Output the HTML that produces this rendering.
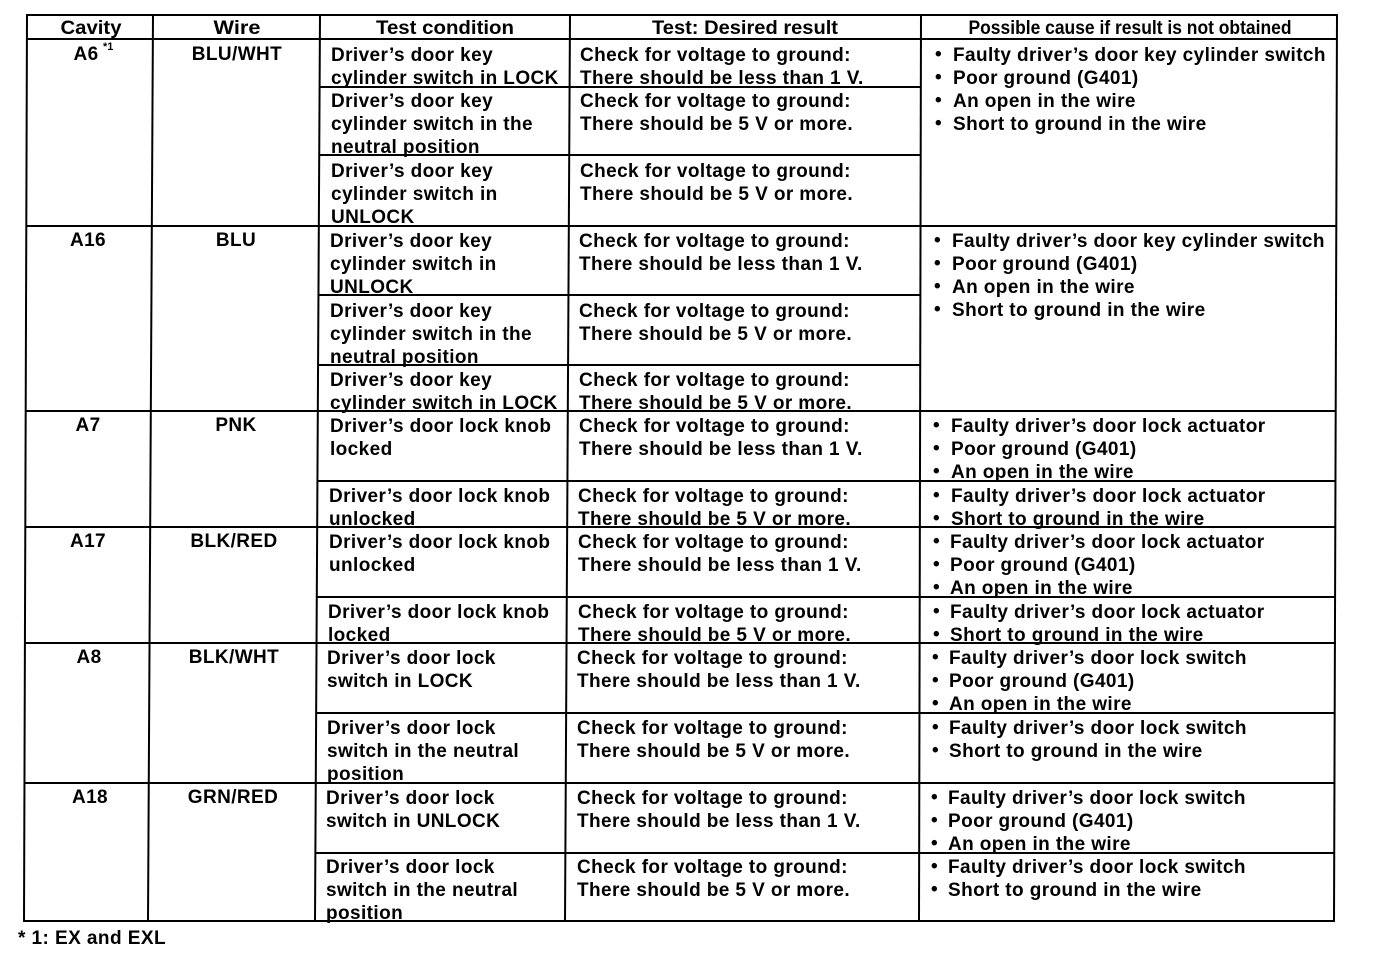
<!DOCTYPE html>
<html><head><meta charset="utf-8"><style>
html,body{margin:0;padding:0;background:#fff;}
svg{display:block;}
text{font-family:"Liberation Sans",Arial,sans-serif;font-weight:bold;font-size:19px;letter-spacing:0.4px;fill:#000;}
.h{font-size:19px;letter-spacing:0;}
.c{text-anchor:middle;}
</style></head><body>
<svg width="1376" height="956" viewBox="0 0 1376 956" xmlns="http://www.w3.org/2000/svg">
<g stroke="#000" stroke-width="2" fill="none">
<!-- verticals -->
<line x1="27" y1="14" x2="24" y2="922"/>
<line x1="153" y1="14" x2="148" y2="922"/>
<line x1="320" y1="14" x2="315" y2="922"/>
<line x1="570" y1="14" x2="565" y2="922"/>
<line x1="921" y1="14" x2="919" y2="922"/>
<line x1="1337" y1="14" x2="1334" y2="922"/>
<!-- full horizontals -->
<line x1="26" y1="15" x2="1337" y2="15"/>
<line x1="26" y1="39" x2="1337" y2="39"/>
<line x1="26" y1="226" x2="1337" y2="226"/>
<line x1="25" y1="411" x2="1336" y2="411"/>
<line x1="25" y1="527" x2="1336" y2="527"/>
<line x1="25" y1="643" x2="1336" y2="643"/>
<line x1="24" y1="783" x2="1335" y2="783"/>
<line x1="24" y1="921" x2="1335" y2="921"/>
<!-- partial horizontals (test condition/result only) -->
<line x1="319" y1="87" x2="921" y2="87"/>
<line x1="319" y1="155" x2="921" y2="155"/>
<line x1="318" y1="295" x2="920" y2="295"/>
<line x1="318" y1="365" x2="920" y2="365"/>
<!-- partial horizontals (incl. cause col) -->
<line x1="318" y1="481" x2="1336" y2="481"/>
<line x1="317" y1="597" x2="1336" y2="597"/>
<line x1="316" y1="713" x2="1335" y2="713"/>
<line x1="316" y1="853" x2="1335" y2="853"/>
</g>

<!-- header -->
<text class="h c" x="91" y="34" textLength="61" lengthAdjust="spacingAndGlyphs">Cavity</text>
<text class="h c" x="237" y="34" textLength="47" lengthAdjust="spacingAndGlyphs">Wire</text>
<text class="h c" x="445" y="34" textLength="138" lengthAdjust="spacingAndGlyphs">Test condition</text>
<text class="h c" x="745" y="34" textLength="186" lengthAdjust="spacingAndGlyphs">Test: Desired result</text>
<text class="h c" x="1130" y="34" textLength="323" lengthAdjust="spacingAndGlyphs">Possible cause if result is not obtained</text>

<!-- cavity / wire -->
<text class="c" x="86" y="60">A6</text><text x="103" y="50" style="font-size:11px;letter-spacing:0">*1</text>
<text class="c" x="237" y="60">BLU/WHT</text>
<text class="c" x="88" y="246">A16</text>
<text class="c" x="236" y="246">BLU</text>
<text class="c" x="88" y="431">A7</text>
<text class="c" x="236" y="431">PNK</text>
<text class="c" x="88" y="547">A17</text>
<text class="c" x="234" y="547">BLK/RED</text>
<text class="c" x="89" y="663">A8</text>
<text class="c" x="234" y="663">BLK/WHT</text>
<text class="c" x="90" y="803">A18</text>
<text class="c" x="233" y="803">GRN/RED</text>

<!-- test condition -->
<text x="331" y="61">Driver’s door key</text>
<text x="331" y="84">cylinder switch in LOCK</text>
<text x="331" y="107">Driver’s door key</text>
<text x="331" y="130">cylinder switch in the</text>
<text x="331" y="153">neutral position</text>
<text x="331" y="177">Driver’s door key</text>
<text x="331" y="200">cylinder switch in</text>
<text x="331" y="223">UNLOCK</text>
<text x="330" y="247">Driver’s door key</text>
<text x="330" y="270">cylinder switch in</text>
<text x="330" y="293">UNLOCK</text>
<text x="330" y="317">Driver’s door key</text>
<text x="330" y="340">cylinder switch in the</text>
<text x="330" y="363">neutral position</text>
<text x="330" y="386">Driver’s door key</text>
<text x="330" y="409">cylinder switch in LOCK</text>
<text x="330" y="432">Driver’s door lock knob</text>
<text x="330" y="455">locked</text>
<text x="329" y="502">Driver’s door lock knob</text>
<text x="329" y="525">unlocked</text>
<text x="329" y="548">Driver’s door lock knob</text>
<text x="329" y="571">unlocked</text>
<text x="328" y="618">Driver’s door lock knob</text>
<text x="328" y="641">locked</text>
<text x="327" y="664">Driver’s door lock</text>
<text x="327" y="687">switch in LOCK</text>
<text x="327" y="734">Driver’s door lock</text>
<text x="327" y="757">switch in the neutral</text>
<text x="327" y="780">position</text>
<text x="326" y="804">Driver’s door lock</text>
<text x="326" y="827">switch in UNLOCK</text>
<text x="326" y="873">Driver’s door lock</text>
<text x="326" y="896">switch in the neutral</text>
<text x="326" y="919">position</text>

<!-- desired result -->
<text x="580" y="61">Check for voltage to ground:</text>
<text x="580" y="84">There should be less than 1 V.</text>
<text x="580" y="107">Check for voltage to ground:</text>
<text x="580" y="130">There should be 5 V or more.</text>
<text x="580" y="177">Check for voltage to ground:</text>
<text x="580" y="200">There should be 5 V or more.</text>
<text x="579" y="247">Check for voltage to ground:</text>
<text x="579" y="270">There should be less than 1 V.</text>
<text x="579" y="317">Check for voltage to ground:</text>
<text x="579" y="340">There should be 5 V or more.</text>
<text x="579" y="386">Check for voltage to ground:</text>
<text x="579" y="409">There should be 5 V or more.</text>
<text x="579" y="432">Check for voltage to ground:</text>
<text x="579" y="455">There should be less than 1 V.</text>
<text x="578" y="502">Check for voltage to ground:</text>
<text x="578" y="525">There should be 5 V or more.</text>
<text x="578" y="548">Check for voltage to ground:</text>
<text x="578" y="571">There should be less than 1 V.</text>
<text x="578" y="618">Check for voltage to ground:</text>
<text x="578" y="641">There should be 5 V or more.</text>
<text x="577" y="664">Check for voltage to ground:</text>
<text x="577" y="687">There should be less than 1 V.</text>
<text x="577" y="734">Check for voltage to ground:</text>
<text x="577" y="757">There should be 5 V or more.</text>
<text x="577" y="804">Check for voltage to ground:</text>
<text x="577" y="827">There should be less than 1 V.</text>
<text x="577" y="873">Check for voltage to ground:</text>
<text x="577" y="896">There should be 5 V or more.</text>

<!-- possible causes -->
<g>
<text x="935" y="60">•</text><text x="953" y="61">Faulty driver’s door key cylinder switch</text>
<text x="935" y="83">•</text><text x="953" y="84">Poor ground (G401)</text>
<text x="935" y="106">•</text><text x="953" y="107">An open in the wire</text>
<text x="935" y="129">•</text><text x="953" y="130">Short to ground in the wire</text>

<text x="934" y="246">•</text><text x="952" y="247">Faulty driver’s door key cylinder switch</text>
<text x="934" y="269">•</text><text x="952" y="270">Poor ground (G401)</text>
<text x="934" y="292">•</text><text x="952" y="293">An open in the wire</text>
<text x="934" y="315">•</text><text x="952" y="316">Short to ground in the wire</text>

<text x="933" y="431">•</text><text x="951" y="432">Faulty driver’s door lock actuator</text>
<text x="933" y="454">•</text><text x="951" y="455">Poor ground (G401)</text>
<text x="933" y="477">•</text><text x="951" y="478">An open in the wire</text>
<text x="933" y="501">•</text><text x="951" y="502">Faulty driver’s door lock actuator</text>
<text x="933" y="524">•</text><text x="951" y="525">Short to ground in the wire</text>

<text x="933" y="547">•</text><text x="950" y="548">Faulty driver’s door lock actuator</text>
<text x="933" y="570">•</text><text x="950" y="571">Poor ground (G401)</text>
<text x="933" y="593">•</text><text x="950" y="594">An open in the wire</text>
<text x="933" y="617">•</text><text x="950" y="618">Faulty driver’s door lock actuator</text>
<text x="933" y="640">•</text><text x="950" y="641">Short to ground in the wire</text>

<text x="932" y="663">•</text><text x="949" y="664">Faulty driver’s door lock switch</text>
<text x="932" y="686">•</text><text x="949" y="687">Poor ground (G401)</text>
<text x="932" y="709">•</text><text x="949" y="710">An open in the wire</text>
<text x="932" y="733">•</text><text x="949" y="734">Faulty driver’s door lock switch</text>
<text x="932" y="756">•</text><text x="949" y="757">Short to ground in the wire</text>

<text x="931" y="803">•</text><text x="948" y="804">Faulty driver’s door lock switch</text>
<text x="931" y="826">•</text><text x="948" y="827">Poor ground (G401)</text>
<text x="931" y="849">•</text><text x="948" y="850">An open in the wire</text>
<text x="931" y="872">•</text><text x="948" y="873">Faulty driver’s door lock switch</text>
<text x="931" y="895">•</text><text x="948" y="896">Short to ground in the wire</text>
</g>

<!-- footnote -->
<text x="18" y="944" textLength="148" lengthAdjust="spacingAndGlyphs">* 1: EX and EXL</text>
</svg>
</body></html>
